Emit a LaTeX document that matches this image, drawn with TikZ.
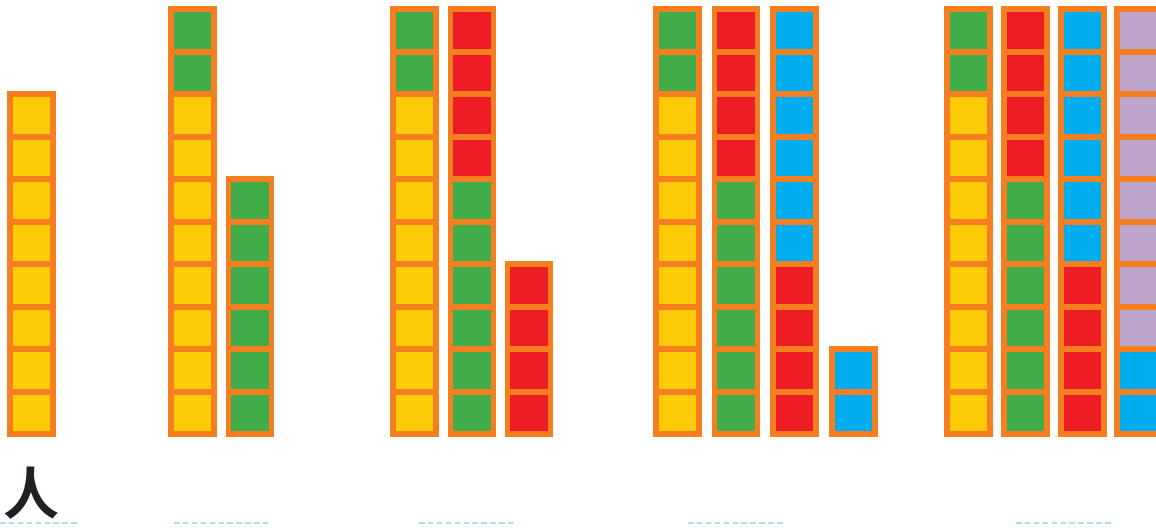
\documentclass[tikz,border=0pt]{standalone}
\usepackage{fontspec}
\newfontfamily\cjk{Noto Sans CJK SC}[UprightFont=* Bold]
\definecolor{cY}{HTML}{FDCA08}
\definecolor{cG}{HTML}{40AD4A}
\definecolor{cR}{HTML}{EE1C25}
\definecolor{cB}{HTML}{00ADEF}
\definecolor{cL}{HTML}{BCA4CB}
\definecolor{cO}{HTML}{F57F20}
\definecolor{cD}{HTML}{A9DDF5}
\definecolor{cK}{HTML}{231F20}
\tikzset{
  cell/.style={draw=cO, line width=5.6pt, minimum width=43.1pt, minimum height=42.5pt, inner sep=0pt, outer sep=0pt},
  guide/.style={draw=cD, line width=2pt, dash pattern=on 5.5pt off 3.4pt},
}
% #1 name, #2 left outer x, #3 colour list bottom to top
\newcommand\cellcol[3]{%
  \foreach \cc [count=\ii] in {#3}{%
    \node[cell, fill=\cc] (#1-\ii) at ({#2+2.8+21.55}, {437-2.8-21.25-42.5*(\ii-1)}) {};
  }%
}
\begin{document}
\begin{tikzpicture}[x=1pt,y=-1pt]
\useasboundingbox (0,0) rectangle (1156,528);
% group 1
\cellcol{a1}{7.3}{cY,cY,cY,cY,cY,cY,cY,cY}
% group 2
\cellcol{b1}{168.3}{cY,cY,cY,cY,cY,cY,cY,cY,cG,cG}
\cellcol{b2}{225.7}{cG,cG,cG,cG,cG,cG}
% group 3
\cellcol{c1}{390.3}{cY,cY,cY,cY,cY,cY,cY,cY,cG,cG}
\cellcol{c2}{447.5}{cG,cG,cG,cG,cG,cG,cR,cR,cR,cR}
\cellcol{c3}{504.5}{cR,cR,cR,cR}
% group 4
\cellcol{d1}{653}{cY,cY,cY,cY,cY,cY,cY,cY,cG,cG}
\cellcol{d2}{711.7}{cG,cG,cG,cG,cG,cG,cR,cR,cR,cR}
\cellcol{d3}{770.3}{cR,cR,cR,cR,cB,cB,cB,cB,cB,cB}
\cellcol{d4}{829}{cB,cB}
% group 5
\cellcol{e1}{944}{cY,cY,cY,cY,cY,cY,cY,cY,cG,cG}
\cellcol{e2}{1001}{cG,cG,cG,cG,cG,cG,cR,cR,cR,cR}
\cellcol{e3}{1058}{cR,cR,cR,cR,cB,cB,cB,cB,cB,cB}
\cellcol{e4}{1114.3}{cB,cB,cL,cL,cL,cL,cL,cL,cL,cL}
% character
\node[text=cK, inner sep=0pt] (ren) at (31,493) {\fontsize{56}{56}\selectfont\cjk 人};
% dashed guides
\coordinate (g1a) at (0,522.5);   \coordinate (g1b) at (80,522.5);
\coordinate (g2a) at (174,522.5); \coordinate (g2b) at (268,522.5);
\coordinate (g3a) at (419,522.5); \coordinate (g3b) at (513,522.5);
\coordinate (g4a) at (688,522.5); \coordinate (g4b) at (783,522.5);
\coordinate (g5a) at (1016,522.5);\coordinate (g5b) at (1111,522.5);
\foreach \g in {1,...,5}{\draw[guide] (g\g a) -- (g\g b);}
\end{tikzpicture}
\end{document}
